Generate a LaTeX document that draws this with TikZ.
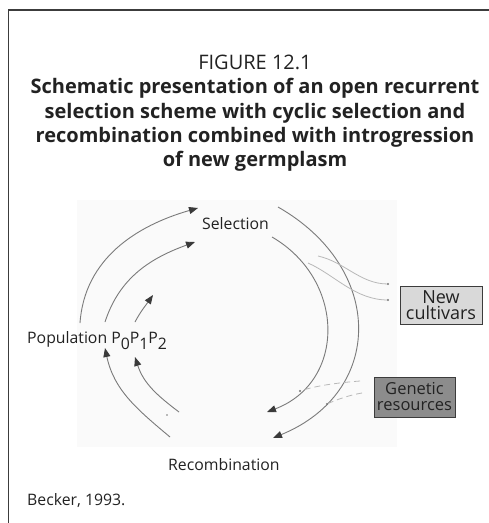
\documentclass[tikz,border=0pt]{standalone}
\usepackage{fontspec}
\setmainfont{Open Sans}
\usetikzlibrary{arrows.meta}
\definecolor{arcgray}{HTML}{7A7A7A}
\definecolor{tipgray}{HTML}{3A3A3A}
\definecolor{lightline}{HTML}{B8B8B8}
\definecolor{boxlight}{HTML}{D9D9D9}
\definecolor{boxdark}{HTML}{8C8C8C}
\definecolor{framegray}{HTML}{3C3C3C}
\definecolor{textdark}{HTML}{222222}
\begin{document}
\begin{tikzpicture}[x=1pt,y=1pt,
  cyc/.style={draw=arcgray, line width=0.9pt, -{Triangle[length=9pt,width=7pt,fill=tipgray,color=tipgray]}},
  branch/.style={draw=lightline, line width=0.8pt},
  dashbranch/.style={draw=lightline, line width=0.8pt, dash pattern=on 6pt off 4pt},
  lbl/.style={inner sep=0pt, text=textdark, font=\fontsize{15.8}{16}\selectfont},
  sinkbox/.style={draw=framegray, line width=0.9pt, align=center, inner sep=0pt, text=textdark, minimum width=82pt, minimum height=39pt},
  enddot/.style={circle, fill=arcgray, inner sep=0pt, minimum size=2.4pt}
]
\useasboundingbox (0,0) rectangle (489,-523);
% frame
\draw[framegray, line width=1.4pt] (8.5,-523) -- (8.5,-10) -- (489,-10);
% faint background of the scheme
\fill[black!2] (77,-200) rectangle (397,-447);
% title
\node[align=center, inner sep=0pt, anchor=north, text=textdark, font=\fontsize{20}{24.2}\selectfont] (title) at (255,-55)
  {FIGURE 12.1\\
   \textbf{Schematic presentation of an open recurrent}\\
   \textbf{selection scheme with cyclic selection and}\\
   \textbf{recombination combined with introgression}\\
   \textbf{of new germplasm}};
% labels
\node[lbl, anchor=base west] (sel) at (202,-229) {Selection};
\node[lbl, anchor=base west] (pop) at (27,-343) {Population P\raisebox{-6pt}{0}P\raisebox{-6pt}{1}P\raisebox{-6pt}{2}};
\node[lbl, anchor=base west] (rec) at (168,-470) {Recombination};
\node[lbl, anchor=base west] (src) at (27,-505) {Becker, 1993.};
\node[sinkbox, fill=boxlight, font=\fontsize{18}{16.5}\selectfont, minimum height=38pt] (newc) at (441,-305) {New\\cultivars};
\node[sinkbox, fill=boxdark, font=\fontsize{16.5}{16}\selectfont, minimum width=81pt, minimum height=40pt] (gen) at (414.5,-397) {Genetic\\resources};
% coordinates of arc ends
\coordinate (a1s) at (80,-323);  \coordinate (a1e) at (198,-208);
\coordinate (a2s) at (105,-322); \coordinate (a2e) at (195,-242);
\coordinate (a3s) at (135,-322); \coordinate (a3e) at (153,-295);
\coordinate (b1s) at (170,-437); \coordinate (b1e) at (105,-348);
\coordinate (b2s) at (179,-412); \coordinate (b2e) at (135,-357);
\coordinate (c1s) at (278,-207); \coordinate (c1e) at (273,-438);
\coordinate (c2s) at (272,-237); \coordinate (c2e) at (267,-412);
% Population -> Selection
\draw[cyc] (a1s) to[out=86, in=196] (a1e);
\draw[cyc] (a2s) to[out=72, in=200] (a2e);
\draw[cyc] (a3s) to[out=62, in=235] (a3e);
% Recombination -> Population
\draw[cyc] (b1s) to[out=140, in=-78] (b1e);
\draw[cyc] (b2s) to[out=143, in=-72] (b2e);
% Selection -> Recombination
\draw[cyc] (c1s) .. controls (385,-268) and (385,-392) .. (c1e);
\draw[cyc] (c2s) .. controls (346,-280) and (346,-382) .. (c2e);
% branches to new cultivars
\coordinate (n1) at (388,-284);
\coordinate (n2) at (388,-300);
\draw[branch] (318,-256) .. controls (345,-262) and (360,-284) .. (n1);
\draw[branch] (308,-263) .. controls (335,-275) and (355,-300) .. (n2);
\node[enddot] at (n1) {};
\node[enddot] at (n2) {};
% introgression from genetic resources
\coordinate (g1) at (300,-391);
\coordinate (g2) at (327,-404);
\draw[dashbranch] (360,-381) .. controls (335,-383) and (315,-386) .. (g1);
\draw[dashbranch] (362,-393) .. controls (350,-395) and (338,-399) .. (g2);
\node[enddot] at (g1) {};
\node[enddot] at (g2) {};
\node[circle, fill=arcgray, inner sep=0pt, minimum size=1.6pt] (spk) at (167,-415) {};
\end{tikzpicture}
\end{document}
